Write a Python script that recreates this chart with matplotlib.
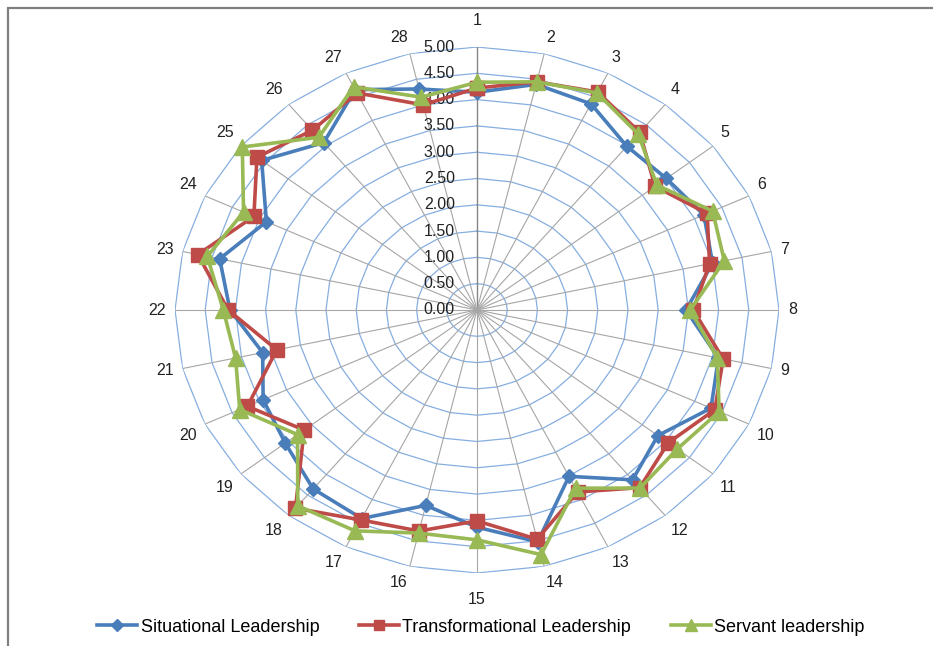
import matplotlib
matplotlib.use('Agg')
import matplotlib.pyplot as plt
from matplotlib.patches import Rectangle
import numpy as np

plt.rcParams['font.family'] = ['Liberation Sans', 'DejaVu Sans']

categories = [str(i) for i in range(1, 29)]
niveles = [0.0, 0.5, 1.0, 1.5, 2.0, 2.5, 3.0, 3.5, 4.0, 4.5, 5.0]

situational = [4.14, 4.40, 4.35, 3.98, 4.01, 4.17, 4.00, 3.46, 4.10, 4.30, 3.83, 4.13, 3.51, 4.52,
               4.13, 3.81, 4.40, 4.35, 4.06, 3.93, 3.64, 4.09, 4.37, 3.87, 4.56, 4.07, 4.65, 4.31]
transformational = [4.22, 4.45, 4.60, 4.32, 3.77, 4.23, 3.95, 3.58, 4.18, 4.37, 4.05, 4.32, 3.84, 4.47,
                    4.01, 4.31, 4.43, 4.82, 3.66, 4.22, 3.40, 4.12, 4.74, 4.10, 4.66, 4.37, 4.58, 4.00]
servant = [4.33, 4.45, 4.58, 4.28, 3.81, 4.33, 4.20, 3.53, 4.08, 4.45, 4.24, 4.33, 3.76, 4.77,
           4.37, 4.35, 4.66, 4.76, 3.80, 4.36, 4.10, 4.20, 4.58, 4.29, 4.97, 4.20, 4.71, 4.15]

series = [
    ('Situational Leadership', situational, '#4A7EBB', 'D', 7.5),
    ('Transformational Leadership', transformational, '#BE4B48', 's', 10),
    ('Servant leadership', servant, '#98B954', '^', 11),
]

W, H = 933, 646
fig = plt.figure(figsize=(W / 100, H / 100), dpi=100)

# radar eliptico como en la imagen original
cx, cy, rx, ry = 477, 310, 302, 263
ax = fig.add_axes([(cx - rx) / W, (H - cy - ry) / H, 2 * rx / W, 2 * ry / H], projection='polar')
ax.set_aspect('auto')
ax.set_theta_zero_location('N')
ax.set_theta_direction(-1)
ax.set_ylim(0, 5)
ax.grid(False)
ax.set_xticks([])
ax.set_yticks([])
ax.spines['polar'].set_visible(False)
ax.patch.set_alpha(0)

n = len(categories)
angulos = np.arange(n) * 2 * np.pi / n
cerrado = np.append(angulos, angulos[0])

# anillos poligonales
for nv in niveles[1:]:
    ax.plot(cerrado, [nv] * (n + 1), color='#86AEE0', linewidth=0.9, zorder=1)
# radios
for i, a in enumerate(angulos):
    ax.plot([a, a], [0, 5], color='#868686' if i == 0 else '#A6A6A6',
            linewidth=1.0 if i == 0 else 0.8, zorder=1)

# etiquetas del eje de valores
for nv in niveles:
    ax.annotate(f'{nv:.2f}', xy=(0, nv), xytext=(-22, 0), textcoords='offset pixels',
                ha='right', va='center', fontsize=11.5, color='#222222')

# etiquetas de categorias
g = 9
for a, lab in zip(angulos, categories):
    s, c = np.sin(a), np.cos(a)
    ha = 'center' if abs(s) < 0.05 else ('left' if s > 0 else 'right')
    va = 'center' if abs(c) < 0.3 else ('bottom' if c > 0 else 'top')
    extra = 10 if abs(s) < 0.05 else 0
    ax.annotate(lab, xy=(a, 5), xytext=(g * s, (g + extra) * c), textcoords='offset pixels',
                ha=ha, va=va, fontsize=11.5, color='#222222', annotation_clip=False)

for nombre, vals, col, mk, ms in series:
    ax.plot(cerrado, vals + vals[:1], color=col, linewidth=2.6, marker=mk, markersize=ms,
            markerfacecolor=col, markeredgecolor=col, label=nombre, clip_on=False, zorder=3)

fig.legend(loc='center', bbox_to_anchor=(481 / W, 1 - 627 / H), ncol=3, frameon=False,
           fontsize=13, handlelength=2.2, handletextpad=0.2, columnspacing=2.2,
           markerscale=0.75)

# borde del grafico
fig.patches.append(Rectangle((8 / W, -0.1), 1.2, 1 - 8 / H + 0.1, transform=fig.transFigure,
                             fill=False, edgecolor='#808080', linewidth=1.6))

fig.savefig('out.png', dpi=100)
